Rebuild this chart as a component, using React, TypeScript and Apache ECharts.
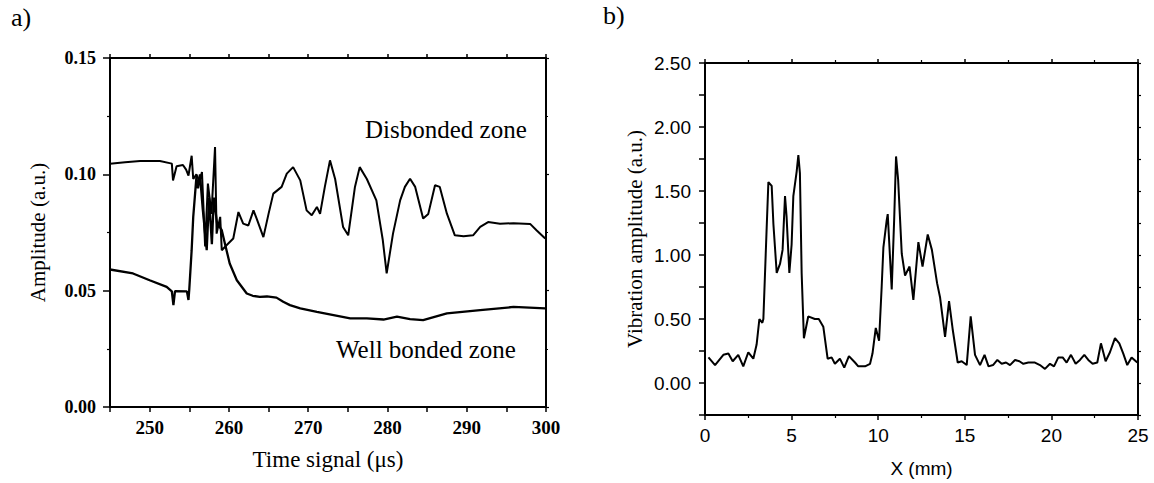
import React, { useEffect, useRef } from "react";
import * as echarts from "echarts";

// Panel a) – Disbonded zone signal
const disbondedT = [245.0, 246.9, 248.8, 251.3, 252.8, 252.95, 253.4, 254.2, 254.6, 254.9, 255.3, 255.5, 255.9, 256.3, 256.6, 257.0, 257.35, 257.8, 258.25, 258.45, 258.9, 259.1, 259.7, 260.55, 261.2, 261.8, 262.45, 263.1, 263.5, 264.35, 265.0, 265.6, 266.65, 267.3, 268.1, 269.0, 269.8, 270.45, 271.1, 271.5, 272.1, 272.75, 273.4, 274.4, 275.05, 275.9, 276.5, 277.4, 278.6, 279.4, 279.9, 280.7, 281.6, 282.2, 282.85, 283.5, 284.5, 285.15, 286.0, 286.6, 287.5, 288.5, 289.6, 290.8, 291.7, 292.7, 294.2, 295.9, 298.0, 298.8, 299.9];
const disbondedA = [0.1046, 0.1052, 0.1057, 0.1057, 0.1046, 0.0974, 0.1035, 0.104, 0.102, 0.0995, 0.108, 0.098, 0.1, 0.097, 0.101, 0.069, 0.096, 0.083, 0.1117, 0.0745, 0.0817, 0.0674, 0.0695, 0.0724, 0.0838, 0.0788, 0.078, 0.0845, 0.081, 0.073, 0.083, 0.0917, 0.0946, 0.1003, 0.1031, 0.0974, 0.0845, 0.0824, 0.086, 0.083, 0.0946, 0.106, 0.098, 0.0774, 0.0738, 0.0946, 0.1031, 0.098, 0.0888, 0.072, 0.0574, 0.0745, 0.0888, 0.0946, 0.0981, 0.0946, 0.081, 0.083, 0.0953, 0.0946, 0.0831, 0.0738, 0.0734, 0.0738, 0.0774, 0.0795, 0.0788, 0.079, 0.0787, 0.076, 0.0724];

// Panel a) – Well bonded zone signal
const wellT = [245.0, 247.9, 250.0, 252.15, 252.8, 253.0, 253.2, 254.7, 254.9, 255.0, 255.3, 255.5, 255.9, 256.1, 256.35, 256.7, 257.2, 257.5, 257.85, 258.1, 258.5, 259.1, 259.5, 260.1, 261.0, 262.25, 263.0, 263.9, 264.8, 266.0, 266.85, 267.7, 269.0, 271.1, 273.2, 275.3, 277.4, 279.5, 281.2, 282.85, 284.5, 287.5, 291.7, 295.9, 299.9];
const wellA = [0.0591, 0.0574, 0.0545, 0.0516, 0.0497, 0.0438, 0.0498, 0.0497, 0.046, 0.0505, 0.0674, 0.0817, 0.0988, 0.094, 0.1, 0.085, 0.0674, 0.09, 0.07, 0.09, 0.079, 0.076, 0.0702, 0.0617, 0.0545, 0.0488, 0.0478, 0.0473, 0.0475, 0.047, 0.0452, 0.0438, 0.0424, 0.0409, 0.0395, 0.0381, 0.0381, 0.0376, 0.0388, 0.0378, 0.0373, 0.0402, 0.0416, 0.043, 0.0424];

// Panel b) – vibration amplitude along X
const posX = [0.2, 0.58, 1.06, 1.35, 1.6, 1.92, 2.21, 2.5, 2.79, 2.98, 3.14, 3.31, 3.37, 3.56, 3.66, 3.85, 3.95, 4.14, 4.33, 4.48, 4.62, 4.71, 4.87, 5.0, 5.1, 5.29, 5.39, 5.48, 5.58, 5.71, 5.96, 6.34, 6.57, 6.83, 7.08, 7.31, 7.5, 7.79, 8.04, 8.31, 8.66, 8.85, 9.24, 9.53, 9.67, 9.86, 10.05, 10.2, 10.3, 10.49, 10.55, 10.78, 10.92, 11.03, 11.15, 11.36, 11.55, 11.81, 12.03, 12.32, 12.56, 12.86, 13.1, 13.4, 13.57, 13.86, 14.09, 14.3, 14.59, 14.82, 15.11, 15.34, 15.59, 15.88, 16.14, 16.37, 16.63, 16.88, 17.13, 17.38, 17.61, 17.9, 18.15, 18.38, 18.67, 19.05, 19.34, 19.63, 19.92, 20.15, 20.4, 20.65, 20.88, 21.13, 21.4, 21.65, 21.9, 22.13, 22.38, 22.65, 22.86, 23.13, 23.38, 23.67, 23.92, 24.15, 24.38, 24.63, 24.96];
const vibAmp = [0.2, 0.14, 0.22, 0.23, 0.17, 0.22, 0.13, 0.24, 0.19, 0.3, 0.5, 0.47, 0.5, 1.21, 1.57, 1.54, 1.24, 0.86, 0.93, 1.04, 1.46, 1.3, 0.86, 1.08, 1.46, 1.65, 1.78, 1.64, 0.86, 0.35, 0.52, 0.5, 0.5, 0.44, 0.19, 0.2, 0.15, 0.19, 0.12, 0.21, 0.16, 0.13, 0.13, 0.15, 0.23, 0.43, 0.33, 0.75, 1.06, 1.27, 1.32, 0.73, 1.27, 1.77, 1.59, 1.01, 0.84, 0.91, 0.65, 1.1, 0.91, 1.16, 1.04, 0.78, 0.67, 0.36, 0.64, 0.42, 0.16, 0.17, 0.14, 0.52, 0.22, 0.14, 0.22, 0.13, 0.14, 0.18, 0.15, 0.16, 0.14, 0.18, 0.17, 0.15, 0.16, 0.16, 0.14, 0.11, 0.15, 0.13, 0.2, 0.2, 0.16, 0.22, 0.15, 0.18, 0.22, 0.18, 0.15, 0.16, 0.31, 0.17, 0.24, 0.35, 0.31, 0.23, 0.14, 0.2, 0.16];

const SERIF = "'Liberation Serif', 'Times New Roman', serif";
const SANS = "'Liberation Sans', Arial, sans-serif";
const BLACK = "#000";

const zip = (a: number[], b: number[]) => a.map((v, i) => [v, b[i]]);

function frameAxis(extra: any) {
  return {
    splitLine: { show: false },
    axisLine: { show: true, onZero: false, lineStyle: { color: BLACK, width: 2 } },
    axisTick: { show: true, length: 4, lineStyle: { color: BLACK, width: 1.5 } },
    axisLabel: { show: false },
    ...extra,
  };
}

export default function App() {
  const ref = useRef<HTMLDivElement>(null);
  useEffect(() => {
    const chart = echarts.init(ref.current!, null, { renderer: "svg" });
    const option: any = {
      animation: false,
      backgroundColor: "#fff",
      grid: [
        { left: 110, top: 58, width: 436, height: 349 },
        { left: 705, top: 63, width: 433, height: 352 },
      ],
      xAxis: [
        frameAxis({
          type: "value", gridIndex: 0, position: "bottom", min: 245, max: 300, interval: 5,
          axisTick: { show: true, length: 5, lineStyle: { color: BLACK, width: 1.5 } },
          axisLabel: {
            show: true, margin: 11, color: BLACK, fontFamily: SERIF, fontWeight: "bold", fontSize: 19,
            formatter: (v: number) => (Math.round(v) % 10 === 0 ? String(Math.round(v)) : ""),
          },
          name: "Time signal (μs)", nameLocation: "middle", nameGap: 41,
          nameTextStyle: { color: BLACK, fontFamily: SERIF, fontSize: 23 },
        }),
        frameAxis({ type: "value", gridIndex: 0, position: "top", min: 245, max: 300, interval: 5 }),
        frameAxis({
          type: "value", gridIndex: 1, position: "bottom", min: 0, max: 25, interval: 5,
          axisTick: { show: true, length: 5, lineStyle: { color: BLACK, width: 1.5 } },
          minorTick: { show: true, splitNumber: 2, length: 3, lineStyle: { color: BLACK, width: 1.2 } },
          axisLabel: { show: true, margin: 11, color: BLACK, fontFamily: SANS, fontSize: 19 },
          name: "X (mm)", nameLocation: "middle", nameGap: 44,
          nameTextStyle: { color: BLACK, fontFamily: SANS, fontSize: 19 },
        }),
        frameAxis({
          type: "value", gridIndex: 1, position: "top", min: 0, max: 25, interval: 5,
          minorTick: { show: true, splitNumber: 2, length: 3, lineStyle: { color: BLACK, width: 1.2 } },
        }),
      ],
      yAxis: [
        frameAxis({
          type: "value", gridIndex: 0, position: "left", min: 0, max: 0.15, interval: 0.05,
          axisTick: { show: true, length: 7, lineStyle: { color: BLACK, width: 1.5 } },
          minorTick: { show: true, splitNumber: 2, length: 3, lineStyle: { color: BLACK, width: 1.2 } },
          axisLabel: {
            show: true, margin: 14, color: BLACK, fontFamily: SERIF, fontWeight: "bold", fontSize: 18,
            formatter: (v: number) => v.toFixed(2),
          },
          name: "Amplitude (a.u.)", nameLocation: "middle", nameGap: 62,
          nameTextStyle: { color: BLACK, fontFamily: SERIF, fontSize: 21 },
        }),
        frameAxis({
          type: "value", gridIndex: 0, position: "right", min: 0, max: 0.15, interval: 0.05,
          axisTick: { show: true, length: 3, lineStyle: { color: BLACK, width: 1.2 } },
          minorTick: { show: true, splitNumber: 2, length: 2, lineStyle: { color: BLACK, width: 1 } },
        }),
        frameAxis({
          type: "value", gridIndex: 1, position: "left", min: -0.25, max: 2.5, interval: 0.25,
          axisTick: { show: true, length: 6, lineStyle: { color: BLACK, width: 1.5 } },
          axisLabel: {
            show: true, margin: 14, color: BLACK, fontFamily: SANS, fontSize: 19,
            formatter: (v: number) => {
              const k = v * 2;
              return v > -1e-9 && Math.abs(k - Math.round(k)) < 1e-6 ? v.toFixed(2) : "";
            },
          },
          name: "Vibration amplitude (a.u.)", nameLocation: "middle", nameGap: 60,
          nameTextStyle: { color: BLACK, fontFamily: SERIF, fontSize: 21 },
        }),
        frameAxis({
          type: "value", gridIndex: 1, position: "right", min: -0.25, max: 2.5, interval: 0.25,
          axisTick: { show: true, length: 3, lineStyle: { color: BLACK, width: 1.2 } },
        }),
      ],
      series: [
        {
          name: "Disbonded zone", type: "line", xAxisIndex: 0, yAxisIndex: 0, data: zip(disbondedT, disbondedA),
          symbol: "none", lineStyle: { color: BLACK, width: 2 }, silent: true,
        },
        {
          name: "Well bonded zone", type: "line", xAxisIndex: 0, yAxisIndex: 0, data: zip(wellT, wellA),
          symbol: "none", lineStyle: { color: BLACK, width: 2.3 }, silent: true,
        },
        {
          name: "Vibration amplitude", type: "line", xAxisIndex: 2, yAxisIndex: 2, data: zip(posX, vibAmp),
          symbol: "none", lineStyle: { color: BLACK, width: 2 }, silent: true,
        },
      ],
      graphic: [
        { type: "text", left: 11, top: 4, style: { text: "a)", fill: BLACK, font: `26px ${SERIF}` } },
        { type: "text", left: 603, top: 2, style: { text: "b)", fill: BLACK, font: `26px ${SERIF}` } },
        { type: "text", x: 365, y: 129, style: { text: "Disbonded zone", fill: BLACK, font: `25px ${SERIF}`, verticalAlign: "middle" } },
        { type: "text", x: 336, y: 349, style: { text: "Well bonded zone", fill: BLACK, font: `25px ${SERIF}`, verticalAlign: "middle" } },
      ],
    };
    chart.setOption(option);
    return () => chart.dispose();
  }, []);
  return (
    <div
      ref={ref}
      style={{ position: "absolute", left: 0, top: 0, width: 1154, height: 483, background: "#fff" }}
    />
  );
}
